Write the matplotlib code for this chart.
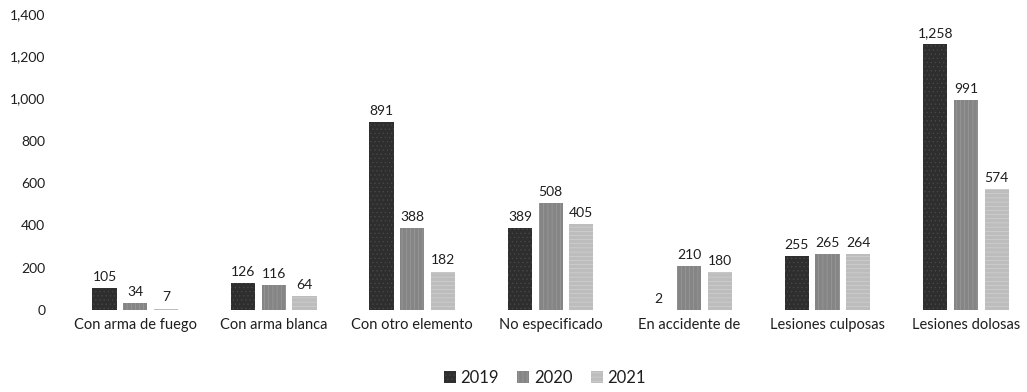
import matplotlib
matplotlib.use("Agg")
import matplotlib.pyplot as plt
import numpy as np

categories = ["Con arma de fuego", "Con arma blanca", "Con otro elemento",
              "No especificado", "En accidente de", "Lesiones culposas",
              "Lesiones dolosas"]
years = ["2019", "2020", "2021"]
v2019 = [105, 126, 891, 389, 2, 255, 1258]
v2020 = [34, 116, 388, 508, 210, 265, 991]
v2021 = [7, 64, 182, 405, 180, 264, 574]
yticks = [0, 200, 400, 600, 800, 1000, 1200, 1400]

plt.rcParams['font.family'] = ['Lato', 'DejaVu Sans']

fig = plt.figure(figsize=(10.27, 3.92), dpi=100)
ax = fig.add_axes([66/1027, 82/392, (1027-66)/1027, (310-14)/392])

colors = ["#2e2e2e", "#858585", "#bdbdbd"]
hatches = ["....", "||||", "----"]
hatch_colors = ["#4a4a4a", "#a0a0a0", "#d6d6d6"]
series = [v2019, v2020, v2021]
x = np.arange(len(categories))
step = 0.222
width = 0.175
plt.rcParams['hatch.linewidth'] = 0.4
for i, (vals, c) in enumerate(zip(series, colors)):
    pos = x + (i - 1) * step
    bars = ax.bar(pos, vals, width=width, color=c, edgecolor=hatch_colors[i],
                  hatch=hatches[i], linewidth=0, label=years[i])
    for b, v in zip(bars, vals):
        ax.text(b.get_x() + b.get_width() / 2, v + 24, f"{v:,}",
                ha="center", va="bottom", fontsize=10, color="#1e1e1e")

ax.set_xlim(-0.5, (1027 - 135) / 138.5)
ax.set_ylim(0, 1400)
ax.set_yticks(yticks)
ax.set_yticklabels([f"{t:,}" for t in yticks])
ax.set_xticks(x)
ax.set_xticklabels(categories)
for s in ax.spines.values():
    s.set_visible(False)
ax.tick_params(axis="y", length=0, pad=15, labelsize=10, labelcolor="#1e1e1e")
ax.tick_params(axis="x", length=0, pad=6, labelsize=10.5, labelcolor="#1e1e1e")

leg = fig.legend(loc="center", bbox_to_anchor=(545/1027, 1 - 378/392), ncol=3,
                 frameon=False, fontsize=12, handlelength=0.7, handleheight=0.7,
                 handletextpad=0.3, columnspacing=1.1)
for t in leg.get_texts():
    t.set_color("#1e1e1e")

fig.savefig("out.png", dpi=100)
